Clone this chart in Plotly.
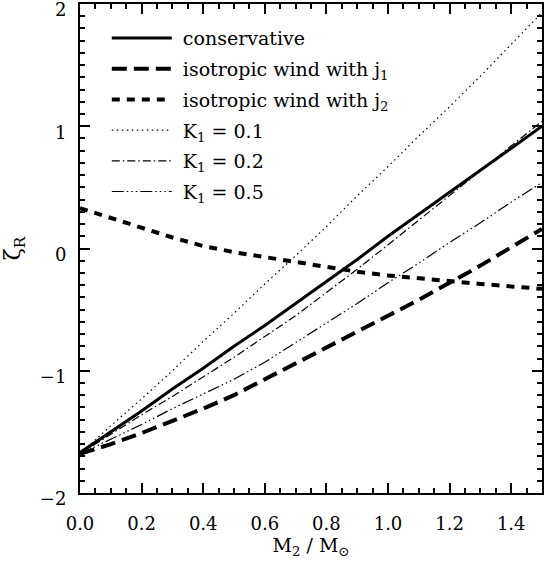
import plotly.graph_objects as go

# x values (M2 / Msun)
m2 = [0.0, 0.1, 0.2, 0.3, 0.4, 0.5, 0.6, 0.7, 0.8, 0.9, 1.0, 1.1, 1.2, 1.3, 1.4, 1.5]

conservative = [-1.67, -1.50, -1.33, -1.15, -0.98, -0.80, -0.63, -0.45, -0.27, -0.09, 0.10, 0.28, 0.46, 0.64, 0.82, 1.00]
wind_j1 = [-1.68, -1.60, -1.51, -1.41, -1.31, -1.20, -1.07, -0.94, -0.81, -0.68, -0.55, -0.42, -0.28, -0.14, 0.01, 0.16]
wind_j2 = [0.33, 0.25, 0.17, 0.09, 0.02, -0.03, -0.07, -0.11, -0.15, -0.19, -0.22, -0.245, -0.27, -0.29, -0.31, -0.33]
k1_01 = [-1.68, -1.45, -1.23, -1.00, -0.76, -0.53, -0.29, -0.06, 0.18, 0.43, 0.67, 0.92, 1.16, 1.41, 1.67, 1.93]
k1_02 = [-1.68, -1.52, -1.36, -1.21, -1.05, -0.89, -0.72, -0.55, -0.36, -0.17, 0.03, 0.23, 0.43, 0.635, 0.84, 1.04]
k1_05 = [-1.68, -1.56, -1.44, -1.31, -1.19, -1.07, -0.93, -0.77, -0.61, -0.45, -0.28, -0.12, 0.05, 0.21, 0.38, 0.54]

names = ["conservative", "isotropic wind with j<sub>1</sub>", "isotropic wind with j<sub>2</sub>",
         "K<sub>1</sub> = 0.1", "K<sub>1</sub> = 0.2", "K<sub>1</sub> = 0.5"]

x_ticks = [0.0, 0.2, 0.4, 0.6, 0.8, 1.0, 1.2, 1.4]
y_ticks = [-2, -1, 0, 1, 2]

FONT = "DejaVu Serif"
NBSP = "\u00a0"

styles = [
    dict(width=3, dash="solid"),
    dict(width=4, dash="15px,7px"),
    dict(width=4, dash="8px,7px"),
    dict(width=1.2, dash="1.5px,3.5px"),
    dict(width=1.2, dash="8px,3px,1.5px,3px"),
    dict(width=1.2, dash="12px,3px,1.5px,3px,1.5px,3px,1.5px,3px"),
]

fig = go.Figure()
for i, (ys, nm, st) in enumerate(zip([conservative, wind_j1, wind_j2, k1_01, k1_02, k1_05], names, styles)):
    fig.add_trace(go.Scatter(
        x=m2, y=ys, mode="lines", name=NBSP + nm, legendgroup=f"g{i}",
        line=dict(color="black", width=st["width"], dash=st["dash"]),
    ))

axis_common = dict(
    showgrid=False, zeroline=False, showline=True, linecolor="black", linewidth=2,
    mirror="allticks", ticks="inside", tickcolor="black", tickwidth=1.5,
    tickfont=dict(family=FONT, size=18, color="black"), automargin=False,
    ticklabeloverflow="allow",
)

fig.update_xaxes(
    range=[0, 1.5], tickvals=x_ticks, ticktext=[f"{v:.1f}" for v in x_ticks], ticklen=10,
    minor=dict(dtick=0.05, ticks="inside", ticklen=5, tickcolor="black", tickwidth=1.5),
    title=dict(text="M<sub>2</sub> / M<sub>⊙</sub>", font=dict(family=FONT, size=19, color="black"), standoff=3),
    ticklabelstandoff=13,
    **axis_common,
)
fig.update_yaxes(
    range=[-2, 2], tickvals=y_ticks, ticktext=["−2", "−1", "0", "1", "2"], ticklen=10,
    minor=dict(dtick=0.1, ticks="inside", ticklen=5, tickcolor="black", tickwidth=1.5),
    title=dict(text="ζ<sub>R</sub>", font=dict(family=FONT, size=22, color="black"), standoff=43),
    ticklabelstandoff=8, ticklabelshift=6,
    **axis_common,
)

fig.update_layout(
    width=547, height=564,
    margin=dict(l=80, r=5, t=4, b=71),
    plot_bgcolor="white", paper_bgcolor="white",
    font=dict(family=FONT, color="black"),
    showlegend=True,
    legend=dict(
        x=0.058, y=0.969, xanchor="left", yanchor="top",
        bgcolor="rgba(0,0,0,0)", borderwidth=0,
        font=dict(family=FONT, size=19, color="black"),
        itemwidth=60, tracegroupgap=3,
    ),
)

fig.write_html("out.html", config={"displayModeBar": False},
               post_script="document.body.style.margin='0';")
